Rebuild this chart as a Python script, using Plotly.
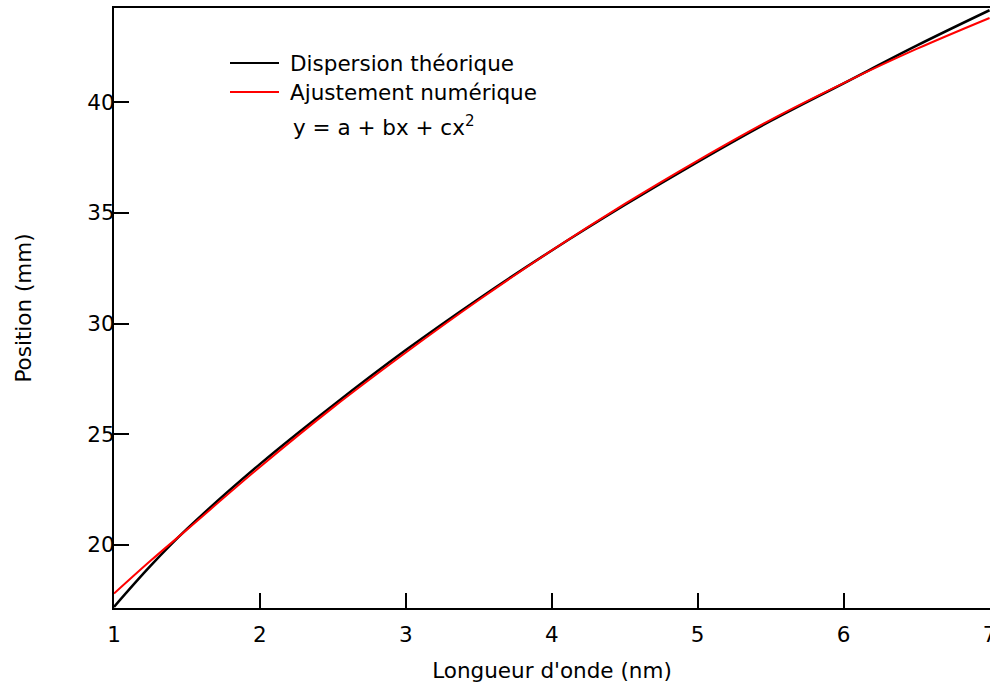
import plotly.graph_objects as go

# Data
wavelength = [1.0, 1.25, 1.5, 2.0, 2.5, 3.0, 3.5, 4.0, 4.5, 5.0, 5.5, 6.0, 6.5, 7.0]
theory = [17.2, 19.05, 20.72, 23.65, 26.3, 28.8, 31.12, 33.3, 35.35, 37.3, 39.15, 40.85, 42.55, 44.15]
fit = [17.8, 19.28, 20.69, 23.52, 26.2, 28.69, 31.06, 33.3, 35.4, 37.36, 39.2, 40.86, 42.4, 43.8]

x_ticks = [1, 2, 3, 4, 5, 6, 7]
y_ticks = [20, 25, 30, 35, 40]

legend_names = ["Dispersion théorique", "Ajustement numérique"]
legend_colors = ["black", "red"]
formula = "y = a + bx + cx<sup>2</sup>"

FONT = "DejaVu Sans"
FS = 21.5

fig = go.Figure()
fig.add_trace(go.Scatter(x=wavelength, y=theory, mode="lines", line=dict(color="black", width=2.5, shape="spline"),
                         name=legend_names[0], showlegend=False))
fig.add_trace(go.Scatter(x=wavelength, y=fit, mode="lines", line=dict(color="red", width=2, shape="spline"),
                         name=legend_names[1], showlegend=False))

W, H = 990, 685
L, R, T, B = 114, 0, 8, 77
pw, ph = W - L - R, H - T - B

def px_to_paper(x, y):
    return (x - L) / pw, (H - B - y) / ph

# Legend made of short line keys and text
for i, (name, col) in enumerate(zip(legend_names, legend_colors)):
    ypix = 63 + 29 * i
    x0, y0 = px_to_paper(230, ypix)
    x1, _ = px_to_paper(279, ypix)
    fig.add_shape(type="line", xref="paper", yref="paper", x0=x0, x1=x1, y0=y0, y1=y0,
                  line=dict(color=col, width=2))
    tx, ty = px_to_paper(288, ypix)
    fig.add_annotation(xref="paper", yref="paper", x=tx, y=ty, text=name, showarrow=False,
                       xanchor="left", yanchor="middle", font=dict(family=FONT, size=FS, color="black"))
fx, fy = px_to_paper(291, 126)
fig.add_annotation(xref="paper", yref="paper", x=fx, y=fy, text=formula, showarrow=False,
                   xanchor="left", yanchor="middle", font=dict(family=FONT, size=FS, color="black"))

fig.update_layout(
    width=W, height=H,
    margin=dict(l=L, r=R, t=T, b=B, autoexpand=False),
    paper_bgcolor="white", plot_bgcolor="white",
    font=dict(family=FONT, size=FS, color="black"),
    xaxis=dict(range=[1, 7.003], tickvals=x_ticks, ticks="inside", ticklen=15, tickwidth=2, tickcolor="black",
               showline=True, linecolor="black", linewidth=2, mirror=True, showgrid=False, zeroline=False,
               ticklabelstandoff=6, ticklabeloverflow="allow", automargin=False,
               title=dict(text="Longueur d'onde (nm)", font=dict(family=FONT, size=FS), standoff=17)),
    yaxis=dict(range=[17.15, 44.25], tickvals=y_ticks, ticks="inside", ticklen=15, tickwidth=2, tickcolor="black",
               showline=True, linecolor="black", linewidth=2, mirror=False, showgrid=False, zeroline=False,
               ticklabelstandoff=-7, automargin=False,
               title=dict(text="Position (mm)", font=dict(family=FONT, size=FS), standoff=50)),
)

fig.write_html("out.html")
